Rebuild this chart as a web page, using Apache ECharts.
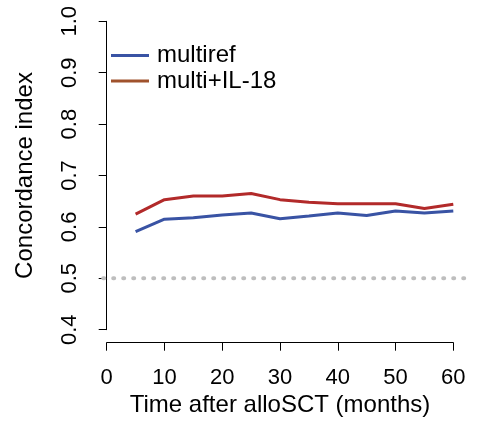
<!DOCTYPE html>
<html>
<head>
<meta charset="utf-8">
<script src="https://cdn.jsdelivr.net/npm/echarts@6/dist/echarts.min.js"></script>
<style>html,body{margin:0;padding:0;background:#fff;}#c{width:486px;height:424px;}</style>
</head>
<body>
<div id="c"></div>
<script>
const months = [5, 10, 15, 20, 25, 30, 35, 40, 45, 50, 55, 60];
const multiref = [0.591, 0.615, 0.618, 0.623, 0.627, 0.616, 0.621, 0.627, 0.622, 0.631, 0.627, 0.631];
const multiIL18 = [0.625, 0.653, 0.660, 0.660, 0.665, 0.653, 0.648, 0.645, 0.645, 0.645, 0.636, 0.644];
const refLevel = 0.5;
const xTicks = [0, 10, 20, 30, 40, 50, 60];
const yTicks = [0.4, 0.5, 0.6, 0.7, 0.8, 0.9, 1.0];
const seriesNames = ['multiref', 'multi+IL-18'];

const FONT = '"Liberation Sans", Arial, sans-serif';
const chart = echarts.init(document.getElementById('c'), null, {renderer: 'canvas'});
const xMin = xTicks[0], xMax = xTicks[xTicks.length - 1];
const yMin = yTicks[0], yMax = yTicks[yTicks.length - 1];
const xPad = (xMax - xMin) * 0.04, yPad = (yMax - yMin) * 0.04;

chart.setOption({
  animation: false,
  backgroundColor: '#ffffff',
  grid: [
    {left: 92.8, right: 18.8, top: 9.0, bottom: 82.0},
    {left: 106.7, right: 32.7, top: 21.3, bottom: 94.3}
  ],
  legend: {
    orient: 'vertical', left: 111, top: 43.4, itemGap: 1.6, padding: 0,
    icon: 'rect', itemWidth: 38, itemHeight: 3,
    textStyle: {fontFamily: FONT, fontSize: 24, lineHeight: 24, color: '#000', padding: [0, 0, 0, 3]},
    data: [
      {name: seriesNames[0], itemStyle: {color: '#3953a4'}},
      {name: seriesNames[1], itemStyle: {color: '#a0522d'}}
    ]
  },
  xAxis: [
    {gridIndex: 0, type: 'value', min: xMin - xPad, max: xMax + xPad, show: false},
    {gridIndex: 1, type: 'value', min: xMin, max: xMax, interval: 10, offset: 13,
     axisLine: {show: true, lineStyle: {color: '#000', width: 1}},
     axisTick: {show: true, length: 8, lineStyle: {color: '#000', width: 1}},
     splitLine: {show: false},
     axisLabel: {fontFamily: FONT, fontSize: 22, color: '#000', margin: 24},
     name: 'Time after alloSCT (months)', nameLocation: 'middle', nameGap: 46,
     nameTextStyle: {fontFamily: FONT, fontSize: 24, color: '#000'}}
  ],
  yAxis: [
    {gridIndex: 0, type: 'value', min: yMin - yPad, max: yMax + yPad, show: false},
    {gridIndex: 1, type: 'value', min: yMin, max: yMax, interval: 0.1, offset: 13.7,
     axisLine: {show: true, lineStyle: {color: '#000', width: 1}},
     axisTick: {show: true, length: 8, lineStyle: {color: '#000', width: 1}},
     splitLine: {show: false},
     axisLabel: {fontFamily: FONT, fontSize: 22, color: '#000', rotate: 90, margin: 12,
                 formatter: v => v.toFixed(1)},
     name: 'Concordance index', nameLocation: 'middle', nameGap: 56,
     nameTextStyle: {fontFamily: FONT, fontSize: 24, color: '#000'}}
  ],
  series: [
    {type: 'line', xAxisIndex: 0, yAxisIndex: 0, silent: true, symbol: 'none',
     data: [[xMin - xPad * 0.25, refLevel], [xMax + xPad, refLevel]],
     lineStyle: {color: '#bebebe', width: 4, type: [1, 9], dashOffset: 0, cap: 'round'}},
    {name: seriesNames[0], type: 'line', xAxisIndex: 1, yAxisIndex: 1, symbol: 'none',
     data: months.map((m, i) => [m, multiref[i]]),
     itemStyle: {color: '#3953a4'},
     lineStyle: {color: '#3953a4', width: 3}},
    {name: seriesNames[1], type: 'line', xAxisIndex: 1, yAxisIndex: 1, symbol: 'none',
     data: months.map((m, i) => [m, multiIL18[i]]),
     itemStyle: {color: '#b22a2a'},
     lineStyle: {color: '#b22a2a', width: 3}}
  ]
});
</script>
</body>
</html>
